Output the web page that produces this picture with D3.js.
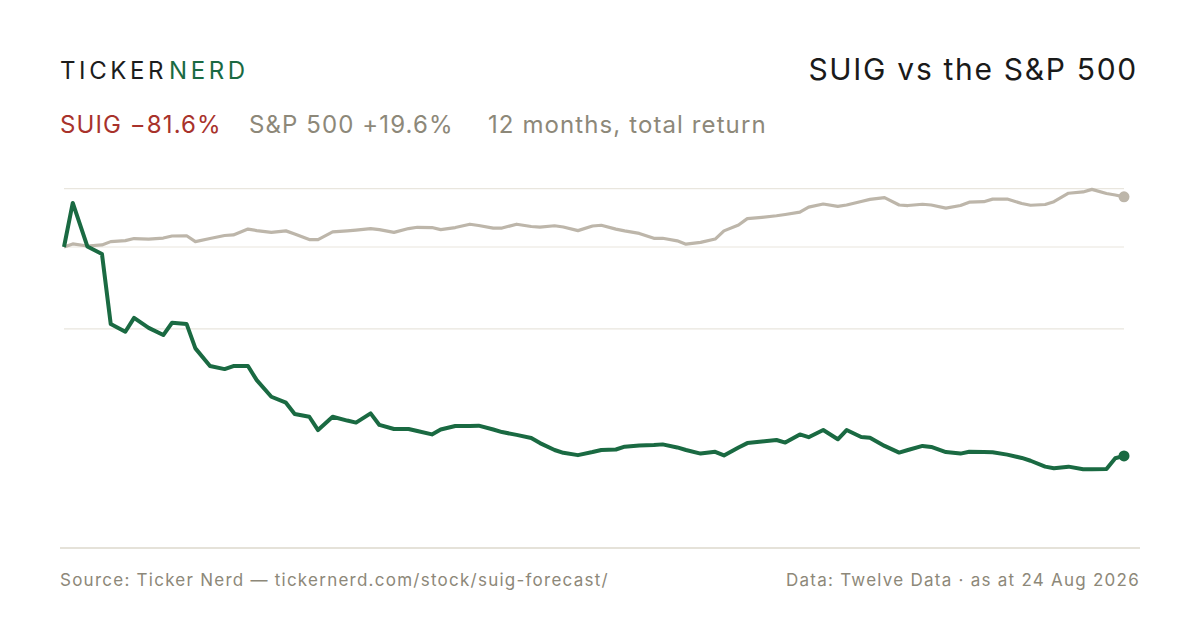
<!DOCTYPE html>
<html>
<head>
<meta charset="utf-8">
<script src="https://cdn.jsdelivr.net/npm/d3@7"></script>
<style>
  html, body { margin: 0; padding: 0; background: #ffffff; }
  svg { display: block; font-family: Inter, "Noto Sans", sans-serif; }
</style>
</head>
<body>
<svg id="chart" width="1200" height="630"></svg>
<script>
// Sample dates (every ~3 trading days over 12 months)
const dates = [
  "2025-08-26","2025-08-29","2025-09-03","2025-09-08","2025-09-11",
  "2025-09-16","2025-09-19","2025-09-24","2025-09-29","2025-10-02",
  "2025-10-07","2025-10-10","2025-10-15","2025-10-20","2025-10-23",
  "2025-10-28","2025-10-31","2025-11-05","2025-11-10","2025-11-13",
  "2025-11-18","2025-11-21","2025-11-26","2025-12-01","2025-12-04",
  "2025-12-09","2025-12-12","2025-12-17","2025-12-22","2025-12-25",
  "2025-12-30","2026-01-02","2026-01-07","2026-01-12","2026-01-15",
  "2026-01-20","2026-01-23","2026-01-28","2026-02-02","2026-02-05",
  "2026-02-10","2026-02-13","2026-02-18","2026-02-23","2026-02-26",
  "2026-03-03","2026-03-06","2026-03-11","2026-03-16","2026-03-19",
  "2026-03-24","2026-03-27","2026-04-01","2026-04-06","2026-04-09",
  "2026-04-14","2026-04-17","2026-04-22","2026-04-27","2026-04-30",
  "2026-05-05","2026-05-08","2026-05-13","2026-05-18","2026-05-21",
  "2026-05-26","2026-05-29","2026-06-03","2026-06-08","2026-06-11",
  "2026-06-16","2026-06-19","2026-06-24","2026-06-29","2026-07-02",
  "2026-07-07","2026-07-10","2026-07-15","2026-07-20","2026-07-23",
  "2026-07-28","2026-07-31","2026-08-05","2026-08-10","2026-08-13",
  "2026-08-18","2026-08-21","2026-08-24"
];

// SUIG total return, %
const suigValues = [
  0, 17.2, 0.2, -2.7, -30.1,
  -33.1, -27.7, -31.6, -34.4, -29.6,
  -30.1, -39.6, -46.5, -47.7, -46.5,
  -46.5, -52.0, -58.5, -60.8, -65.2,
  -66.3, -71.5, -66.3, -67.8, -68.6,
  -65.0, -69.5, -71.1, -71.1, -71.9,
  -73.2, -71.3, -69.9, -69.9, -69.8,
  -71.3, -72.3, -73.4, -74.6, -76.6,
  -79.3, -80.4, -81.3, -80.1, -79.3,
  -79.1, -78.0, -77.5, -77.3, -77.1,
  -78.3, -79.3, -80.7, -80.0, -81.4,
  -78.3, -76.6, -76.0, -75.4, -76.4,
  -73.2, -74.3, -71.5, -75.1, -71.5,
  -74.2, -74.5, -77.7, -80.3, -79.3,
  -77.7, -78.1, -80.1, -80.7, -80.0,
  -80.1, -80.2, -81.1, -82.4, -83.5,
  -85.8, -86.4, -85.8, -86.8, -86.8,
  -86.7, -82.5, -81.6
];

// S&P 500 total return, %
const spxValues = [
  0, 1.2, 0.4, 0.8, 2.1,
  2.5, 3.3, 3.1, 3.5, 4.3,
  4.4, 2.1, 3.3, 4.5, 4.7,
  7.0, 6.4, 5.7, 6.3, 5.1,
  2.9, 2.9, 5.9, 6.3, 6.6,
  7.2, 6.8, 5.7, 7.2, 7.7,
  7.6, 6.8, 7.6, 8.9, 8.4,
  7.4, 7.4, 8.9, 8.0, 7.8,
  8.3, 7.8, 6.4, 8.2, 8.5,
  7.0, 6.3, 5.3, 3.4, 3.4,
  2.4, 1.1, 1.8, 3.1, 6.3,
  8.6, 11.1, 11.6, 12.2, 12.7,
  13.6, 15.6, 16.8, 15.9, 16.4,
  17.8, 18.6, 19.3, 16.4, 16.2,
  16.7, 16.4, 15.2, 16.2, 17.5,
  17.7, 18.7, 18.75, 17.0, 16.3,
  16.6, 17.7, 21.0, 21.5, 22.5,
  20.9, 20.3, 19.6
];

// Gridline levels, %
const gridValues = [22.8, 0, -32];

const GREEN = "#1a6a42";
const GREY_LINE = "#bdb6aa";
const GRID = "#e9e6de";
const MUTED = "#8d8879";

const parseDate = d3.timeParse("%Y-%m-%d");
const points = dates.map((d, i) => ({
  date: parseDate(d),
  suig: suigValues[i],
  spx: spxValues[i]
}));

const svg = d3.select("#chart");

// Scales
const xScale = d3.scaleTime()
  .domain(d3.extent(points, d => d.date))
  .range([64, 1124]);

const yScale = d3.scaleLinear()
  .domain([0, -100])
  .range([247, 503]);

// Header
const brand = svg.append("text")
  .attr("x", 60)
  .attr("y", 79)
  .attr("font-size", 24)
  .attr("letter-spacing", 3.6)
  .attr("font-weight", 400);
brand.append("tspan").attr("fill", "#1c1c1c").text("TICKER");
brand.append("tspan").attr("fill", GREEN).attr("dx", 2).text("NERD");

svg.append("text")
  .attr("x", 1138)
  .attr("y", 80)
  .attr("text-anchor", "end")
  .attr("font-size", 30)
  .attr("letter-spacing", 1.7)
  .attr("fill", "#1a1a1a")
  .text("SUIG vs the S\u0026P 500");

const sub = svg.append("text")
  .attr("y", 133)
  .attr("font-size", 24)
  .attr("letter-spacing", 1.1);
sub.append("tspan").attr("x", 60).attr("fill", "#a8322b").text("SUIG \u221281.6%");
sub.append("tspan").attr("x", 249).attr("fill", MUTED).text("S\u0026P 500 +19.6%");
sub.append("tspan").attr("x", 488).attr("fill", MUTED).text("12 months, total return");

// Gridlines
svg.append("g")
  .selectAll("line")
  .data(gridValues)
  .join("line")
    .attr("x1", 64)
    .attr("x2", 1124)
    .attr("y1", d => yScale(d))
    .attr("y2", d => yScale(d))
    .attr("stroke", GRID)
    .attr("stroke-width", 1.2);

// Lines
const spxLine = d3.line()
  .x(d => xScale(d.date))
  .y(d => yScale(d.spx));

const suigLine = d3.line()
  .x(d => xScale(d.date))
  .y(d => yScale(d.suig));

svg.append("path")
  .datum(points)
  .attr("fill", "none")
  .attr("stroke", GREY_LINE)
  .attr("stroke-width", 3.2)
  .attr("stroke-linejoin", "round")
  .attr("d", spxLine);

svg.append("path")
  .datum(points)
  .attr("fill", "none")
  .attr("stroke", GREEN)
  .attr("stroke-width", 4)
  .attr("stroke-linejoin", "round")
  .attr("d", suigLine);

// End dots
const last = points[points.length - 1];
svg.append("circle")
  .attr("cx", xScale(last.date))
  .attr("cy", yScale(last.spx))
  .attr("r", 5.5)
  .attr("fill", GREY_LINE);
svg.append("circle")
  .attr("cx", xScale(last.date))
  .attr("cy", yScale(last.suig))
  .attr("r", 5.5)
  .attr("fill", GREEN);

// Footer
svg.append("line")
  .attr("x1", 60)
  .attr("x2", 1140)
  .attr("y1", 548)
  .attr("y2", 548)
  .attr("stroke", "#dcd8cc")
  .attr("stroke-width", 1.5);

svg.append("text")
  .attr("x", 60)
  .attr("y", 586)
  .attr("font-size", 17)
  .attr("letter-spacing", 1.25)
  .attr("fill", MUTED)
  .text("Source: Ticker Nerd \u2014 tickernerd.com/stock/suig-forecast/");

svg.append("text")
  .attr("x", 1140)
  .attr("y", 586)
  .attr("text-anchor", "end")
  .attr("font-size", 17)
  .attr("letter-spacing", 1.25)
  .attr("fill", MUTED)
  .text("Data: Twelve Data \u00b7 as at 24 Aug 2026");
</script>
</body>
</html>
